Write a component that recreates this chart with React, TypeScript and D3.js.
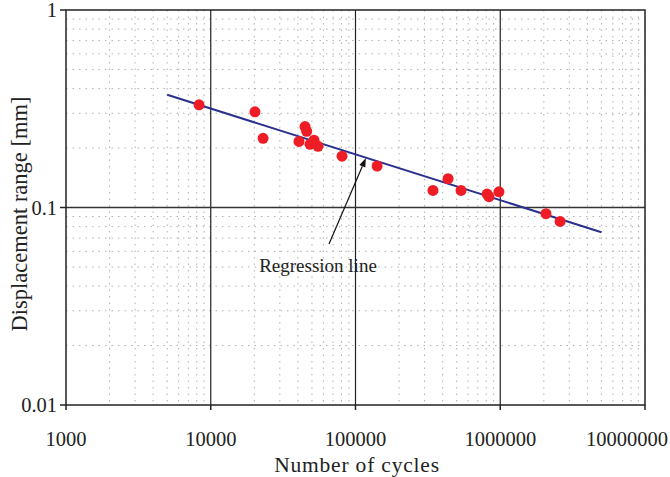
import React from "react";
import * as d3 from "d3";

const cycles = [8300, 20200, 23000, 44800, 46000, 40700, 51700, 48500, 55100, 80700, 141000, 343000, 436000, 536000, 811000, 836000, 980000, 2070000, 2590000];
const displacement = [0.331, 0.305, 0.224, 0.257, 0.243, 0.216, 0.219, 0.209, 0.204, 0.182, 0.162, 0.122, 0.140, 0.122, 0.117, 0.1135, 0.120, 0.093, 0.085];
const regressionX = [5000, 5000000];
const regressionY = [0.372, 0.075];
const xTicks = [1000, 10000, 100000, 1000000, 10000000];
const xTickLabels = ["1000", "10000", "100000", "1000000", "10000000"];
const yTicks = [0.01, 0.1, 1];
const yTickLabels = ["0.01", "0.1", "1"];
const annotationText = "Regression line";
const annotationTarget = [118000, 0.178];

const W = 670, H = 477;
const L = 66, R = 645, T = 10, B = 405;

export default function App() {
  const x = d3.scaleLog().domain([1000, 10000000]).range([L, R]);
  const y = d3.scaleLog().domain([0.01, 1]).range([B, T]);
  const font = "'Liberation Serif', 'Times New Roman', serif";

  const minorX: number[] = [];
  for (let dec = 1000; dec < 10000000; dec *= 10)
    for (let k = 2; k <= 9; k++) minorX.push(dec * k);
  const minorY: number[] = [];
  for (const dec of [0.01, 0.1])
    for (let k = 2; k <= 9; k++) minorY.push(dec * k);

  const line = d3.line<number>()
    .x((_, i) => x(regressionX[i]))
    .y((_, i) => y(regressionY[i]));

  const tipX = x(annotationTarget[0]);
  const tipY = y(annotationTarget[1]);
  const tailX = 329, tailY = 244;
  const ang = Math.atan2(tipY - tailY, tipX - tailX);
  const ah = 9, aw = 3.2;
  const bx = tipX - ah * Math.cos(ang), by = tipY - ah * Math.sin(ang);
  const p1 = [bx + aw * Math.sin(ang), by - aw * Math.cos(ang)];
  const p2 = [bx - aw * Math.sin(ang), by + aw * Math.cos(ang)];

  return (
    <svg width={W} height={H} style={{ position: "absolute", left: 0, top: 0, background: "#fff" }} fontFamily={font}>
      <rect x={0} y={0} width={W} height={H} fill="#fff" />
      {minorX.map((v, i) => (
        <line key={"mx" + i} x1={x(v)} x2={x(v)} y1={T} y2={B} stroke="#b0b0b0" strokeWidth={1} strokeDasharray="1.5,5" />
      ))}
      {minorY.map((v, i) => (
        <line key={"my" + i} x1={L} x2={R} y1={y(v)} y2={y(v)} stroke="#b0b0b0" strokeWidth={1} strokeDasharray="1.5,5" />
      ))}
      {xTicks.slice(1, -1).map((v, i) => (
        <line key={"gx" + i} x1={x(v)} x2={x(v)} y1={T} y2={B} stroke="#222" strokeWidth={1.2} />
      ))}
      {yTicks.slice(1, -1).map((v, i) => (
        <line key={"gy" + i} x1={L} x2={R} y1={y(v)} y2={y(v)} stroke="#333" strokeWidth={1.3} />
      ))}
      <rect x={L} y={T} width={R - L} height={B - T} fill="none" stroke="#222" strokeWidth={1.5} />
      {xTicks.map((v, i) => {
        const last = i === xTicks.length - 1;
        return (
          <g key={"xt" + i}>
            <line x1={x(v)} x2={x(v)} y1={B} y2={B + 5} stroke="#222" strokeWidth={1.5} />
            <text x={last ? 668 : x(v)} y={446} textAnchor={last ? "end" : "middle"} fontSize={20.5} fill="#222">{xTickLabels[i]}</text>
          </g>
        );
      })}
      {yTicks.map((v, i) => (
        <g key={"yt" + i}>
          <line x1={L - 6} x2={L} y1={y(v)} y2={y(v)} stroke="#222" strokeWidth={1.5} />
          <text x={57} y={y(v) + 7} textAnchor="end" fontSize={20.5} fill="#222">{yTickLabels[i]}</text>
        </g>
      ))}
      <path d={line(regressionX) || ""} fill="none" stroke="#2b2f8e" strokeWidth={2} />
      {cycles.map((c, i) => (
        <circle key={"p" + i} cx={x(c)} cy={y(displacement[i])} r={5.5} fill="#ee1c25" />
      ))}
      <line x1={tailX} y1={tailY} x2={bx} y2={by} stroke="#111" strokeWidth={1.2} />
      <polygon points={`${tipX},${tipY} ${p1[0]},${p1[1]} ${p2[0]},${p2[1]}`} fill="#111" />
      <text x={318} y={272} textAnchor="middle" fontSize={19} fill="#222">{annotationText}</text>
      <text x={357} y={472} textAnchor="middle" fontSize={21.5} letterSpacing={0.8} fill="#222">Number of cycles</text>
      <text transform="translate(27,214) rotate(-90)" textAnchor="middle" fontSize={22.5} fill="#222">Displacement range [mm]</text>
    </svg>
  );
}
